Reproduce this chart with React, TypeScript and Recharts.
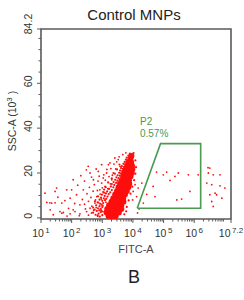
import { ScatterChart, Scatter, XAxis, YAxis, ReferenceArea } from "recharts";

// FITC-A is stored as log10 exponent, SSC-A in units of 10^3
const xMajor = [1, 2, 3, 4, 5, 6, 7.2];
const xMajorLabels = ["1", "2", "3", "4", "5", "6", "7.2"];
const yMajor = [0, 20, 40, 60, 84.2];
const yMajorLabels = ["0", "20", "40", "60", "84.2"];
const yMinor = [5, 10, 15, 25, 30, 35, 45, 50, 55, 65, 70, 75, 80];

// dense main population (drawn with large overlapping dots)
const corePoints: [number, number][] = [
  [3.20, 0.8], [3.28, 0.8], [3.36, 0.8], [3.44, 0.8],
  [3.14, 2.4], [3.22, 2.4], [3.30, 2.4], [3.38, 2.4], [3.46, 2.4], [3.54, 2.4],
  [3.16, 4.0], [3.24, 4.0], [3.32, 4.0], [3.40, 4.0], [3.48, 4.0], [3.56, 4.0], [3.62, 4.0],
  [3.22, 5.6], [3.30, 5.6], [3.38, 5.6], [3.46, 5.6], [3.54, 5.6], [3.62, 5.6],
  [3.30, 7.2], [3.38, 7.2], [3.46, 7.2], [3.54, 7.2], [3.62, 7.2], [3.69, 7.2],
  [3.36, 8.8], [3.44, 8.8], [3.52, 8.8], [3.60, 8.8], [3.68, 8.8],
  [3.42, 10.4], [3.50, 10.4], [3.58, 10.4], [3.66, 10.4], [3.74, 10.4],
  [3.48, 12.0], [3.56, 12.0], [3.64, 12.0], [3.72, 12.0], [3.80, 12.0],
  [3.53, 13.6], [3.61, 13.6], [3.69, 13.6], [3.77, 13.6], [3.85, 13.6],
  [3.58, 15.2], [3.66, 15.2], [3.74, 15.2], [3.82, 15.2], [3.88, 15.2],
  [3.63, 16.8], [3.71, 16.8], [3.79, 16.8], [3.87, 16.8],
  [3.68, 18.4], [3.76, 18.4], [3.84, 18.4], [3.92, 18.4],
  [3.72, 20.0], [3.80, 20.0], [3.88, 20.0], [3.96, 20.0],
  [3.76, 21.6], [3.84, 21.6], [3.92, 21.6], [3.98, 21.6],
  [3.81, 23.2], [3.89, 23.2], [3.97, 23.2],
  [3.86, 24.8], [3.94, 24.8],
  [3.92, 26.4], [3.95, 27.6],
];

// edge of the main population
const haloPoints: [number, number][] = [
  [2.85, 1.1], [2.92, 0.6], [2.78, 1.4], [3.0, 1.2],
  [2.7, 2.3], [2.88, 1.9], [2.95, 2.6],
  [2.82, 3.1], [2.9, 3.4], [2.98, 3.0], [2.75, 3.7],
  [2.86, 4.3], [2.95, 4.0], [2.7, 4.6], [3.0, 4.8],
  [2.91, 5.2], [2.8, 5.6], [2.98, 5.9],
  [2.93, 6.3], [2.85, 6.9], [3.03, 6.6], [2.76, 7.4],
  [3.0, 7.6], [2.91, 8.1], [3.09, 7.9],
  [3.05, 8.7], [2.96, 9.0], [3.13, 8.5], [2.86, 9.6],
  [3.08, 9.8], [3.17, 9.5], [2.99, 10.4],
  [3.12, 10.9], [3.21, 10.6], [3.03, 11.5],
  [3.16, 11.8], [3.26, 11.4], [3.06, 12.6],
  [3.22, 12.9], [3.31, 12.4], [3.11, 13.7],
  [3.28, 14.0], [3.36, 13.6],
  [3.31, 15.1], [3.39, 14.7], [3.19, 15.8],
  [3.37, 16.0], [3.45, 15.6],
  [3.42, 17.0], [3.49, 16.6], [3.31, 17.6],
  [3.46, 18.1], [3.53, 17.7],
  [3.5, 19.0], [3.57, 18.8], [3.41, 19.7],
  [3.55, 20.1], [3.61, 19.8],
  [3.58, 21.1], [3.65, 20.9], [3.48, 21.6],
  [3.61, 22.2], [3.67, 21.9],
  [3.64, 23.1], [3.71, 22.8], [3.56, 23.8],
  [3.69, 24.1], [3.75, 23.9],
  [3.73, 25.0], [3.79, 24.8],
  [3.77, 26.0], [3.83, 25.7],
  [3.8, 26.9], [3.87, 26.7],
  [3.85, 27.8], [3.9, 28.6], [3.99, 28.3],
  [3.72, 1.6], [3.78, 2.9], [3.8, 4.9], [3.86, 7.8], [3.92, 10.8], [3.98, 13.9],
  [4.04, 16.8], [4.08, 19.7], [4.1, 22.6], [4.08, 25.6], [4.02, 28.9],
];

// scattered events
const sparsePoints: [number, number][] = [
  [1.13, 11.0], [1.51, 13.3], [1.46, 11.8], [1.84, 12.5], [1.78, 7.7], [1.19, 6.9],
  [1.35, 6.6], [1.68, 6.6], [2.05, 17.0], [2.0, 12.5], [1.95, 8.8], [2.16, 10.3],
  [2.27, 5.8], [2.38, 12.5], [2.54, 23.0], [2.6, 20.0], [2.71, 17.0], [2.87, 20.7],
  [2.98, 23.7], [3.2, 23.7], [3.25, 24.5], [1.62, 2.8], [1.73, 2.4], [2.05, 3.6],
  [2.11, 2.8], [2.49, 2.8], [2.6, 4.3], [2.76, 6.6], [2.82, 9.5], [2.92, 12.5],
  [2.98, 15.5], [3.03, 17.8], [3.09, 14.0], [3.14, 20.0], [3.31, 17.0], [3.36, 20.0],
  [3.41, 26.7], [3.52, 26.0], [3.58, 23.0], [3.67, 28.2], [3.77, 29.0],
  [1.68, 2.1], [1.95, 1.8], [2.27, 1.8], [1.46, 6.7], [1.29, 6.7], [2.65, 2.2], [3.02, 2.8],
  [2.35, 8.2], [2.42, 6.1], [2.5, 10.8], [2.55, 7.4], [2.58, 13.6], [2.63, 9.1],
  [2.66, 5.2], [2.7, 11.9], [2.72, 3.4], [2.74, 14.8], [2.78, 8.0], [2.8, 4.6],
  [2.84, 12.2], [2.86, 16.4], [2.88, 6.8], [2.9, 18.6], [2.93, 10.6], [2.95, 3.6],
  [2.97, 8.4], [3.0, 13.4], [3.02, 5.4], [3.05, 19.2], [3.06, 11.2], [3.1, 16.8],
  [3.12, 7.0], [3.15, 21.6], [3.18, 13.0], [3.22, 18.4], [3.26, 15.2], [3.28, 22.0],
  [3.33, 19.0], [3.38, 24.0], [3.44, 21.8], [3.47, 25.0], [3.55, 27.2], [2.45, 4.0],
  [2.2, 14.6], [2.3, 18.8], [2.42, 16.4], [2.48, 21.4], [2.65, 18.2], [2.8, 21.8],
  [2.1, 6.4], [1.9, 4.2], [1.55, 9.2], [1.3, 3.6], [2.25, 1.0], [2.55, 1.2],
  [2.85, 0.7], [1.85, 0.8], [1.4, 1.4],
  [4.17, 13.3], [4.01, 11.8], [4.12, 9.5], [4.29, 15.5], [3.99, 8.0], [4.34, 6.6],
  [4.07, 14.8], [4.2, 4.0], [4.15, 2.2], [4.45, 10.5],
  [4.77, 20.4], [4.99, 19.2], [5.1, 20.4], [5.21, 16.7], [5.37, 18.5], [5.48, 20.0],
  [5.81, 19.2], [6.13, 19.2], [4.66, 14.0], [4.72, 9.5], [5.43, 8.0], [5.59, 8.4],
  [5.86, 11.8],
  [6.51, 22.2], [6.46, 20.0], [6.62, 19.2], [6.84, 19.2], [6.41, 15.5], [6.57, 14.8],
  [6.84, 14.3], [7.0, 13.3], [6.68, 11.0], [6.51, 10.3], [6.73, 10.3], [6.57, 7.3],
  [6.9, 8.8], [6.62, 5.1], [6.45, 22.4],
];

// P2 gate vertices (closed)
const gateX = [4.14, 4.9, 6.21, 6.21, 4.14];
const gateY = [4.3, 33.1, 33.1, 4.3, 4.3];
const gateName = "P2";
const gatePct = "0.57%";

const FONT = "'Liberation Sans', Arial, sans-serif";
const RED = "#ff0d0d";
const GREEN = "#4a9a50";
const AXIS = "#5a5a5a";

const toRows = (pts: [number, number][]) => pts.map(([x, y]) => ({ x, y }));
const gateRows = gateX.map((x, i) => ({ x, y: gateY[i] }));

const xMinor: number[] = [];
for (let d = 1; d < 7; d++) for (let k = 2; k < 10; k++) xMinor.push(d + Math.log10(k));

function XTick({ x, y, payload }: any) {
  const i = xMajor.indexOf(payload.value);
  const major = i >= 0;
  return (
    <g>
      <line x1={x} x2={x} y1={y} y2={y + (major ? 4 : 2.5)} stroke={AXIS} strokeWidth={1} />
      {major && (
        <text x={x} y={y + 18} textAnchor="middle" fontSize={10.5} fill="#333" fontFamily={FONT}>
          10<tspan dx={1.5} dy={-4.5} fontSize={8}>{xMajorLabels[i]}</tspan>
        </text>
      )}
    </g>
  );
}

function YTick({ x, y, payload }: any) {
  const i = yMajor.indexOf(payload.value);
  const major = i >= 0;
  const ty = i === yMajor.length - 1 ? y - 5 : y - 2;
  return (
    <g>
      <line x1={x} x2={x - (major ? 4 : 2.5)} y1={y} y2={y} stroke={AXIS} strokeWidth={1} />
      {major && (
        <text x={x - 9} y={ty} transform={`rotate(-90 ${x - 9} ${ty})`} textAnchor="middle"
              fontSize={10.5} fill="#333" fontFamily={FONT}>
          {yMajorLabels[i]}
        </text>
      )}
    </g>
  );
}

const dot = (r: number) => (p: any) => <circle cx={p.cx} cy={p.cy} r={r} fill={RED} />;

function GateLabel(p: any) {
  return (
    <text x={p.cx} y={p.cy} fontSize={10} fill={GREEN} fontFamily={FONT}>
      <tspan x={p.cx}>{gateName}</tspan>
      <tspan x={p.cx} dy={12}>{gatePct}</tspan>
    </text>
  );
}

export default function App() {
  return (
    <div style={{ position: "absolute", left: 0, top: 0, width: 244, height: 300, background: "#fff" }}>
      <ScatterChart width={244} height={300} margin={{ top: 29, right: 13, bottom: 51, left: 11 }}>
        <XAxis type="number" dataKey="x" domain={[1, 7.2]} ticks={[...xMajor, ...xMinor]} interval={0}
               tick={<XTick />} tickLine={false} axisLine={false} tickSize={0} tickMargin={0}
               height={30} allowDataOverflow />
        <YAxis type="number" dataKey="y" domain={[-0.5, 84.2]} ticks={[...yMajor, ...yMinor]} interval={0}
               tick={<YTick />} tickLine={false} axisLine={false} tickSize={0} tickMargin={0}
               width={30} allowDataOverflow />
        <ReferenceArea x1={1} x2={7.2} y1={-0.5} y2={84.2} fill="none" stroke={AXIS} strokeWidth={1.6} />
        <Scatter data={toRows(sparsePoints)} shape={dot(0.9)} isAnimationActive={false} />
        <Scatter data={toRows(haloPoints)} shape={dot(1.1)} isAnimationActive={false} />
        <Scatter data={toRows(corePoints)} shape={dot(3)} isAnimationActive={false} />
        <Scatter data={gateRows} line={{ stroke: GREEN, strokeWidth: 1.6 }} lineType="joint"
                 shape={() => <g />} isAnimationActive={false} />
        <Scatter data={[{ x: 4.23, y: 41.2 }]} shape={GateLabel} isAnimationActive={false} />
      </ScatterChart>
      <svg width={244} height={300} style={{ position: "absolute", left: 0, top: 0, pointerEvents: "none" }}>
        <text x={134} y={20} textAnchor="middle" fontSize={15} fill="#222" fontFamily={FONT}>Control MNPs</text>
        <text x={16} y={121} transform="rotate(-90 16 121)" textAnchor="middle" fontSize={10.5} fill="#333" fontFamily={FONT}>
          SSC-A (10<tspan dy={-4} fontSize={8}>3</tspan><tspan dy={4}> )</tspan>
        </text>
        <text x={136} y={253} textAnchor="middle" fontSize={11} fill="#4a4452" fontFamily={FONT}>FITC-A</text>
        <text x={134} y={283} textAnchor="middle" fontSize={18} fill="#222" fontFamily={FONT}>B</text>
      </svg>
    </div>
  );
}
